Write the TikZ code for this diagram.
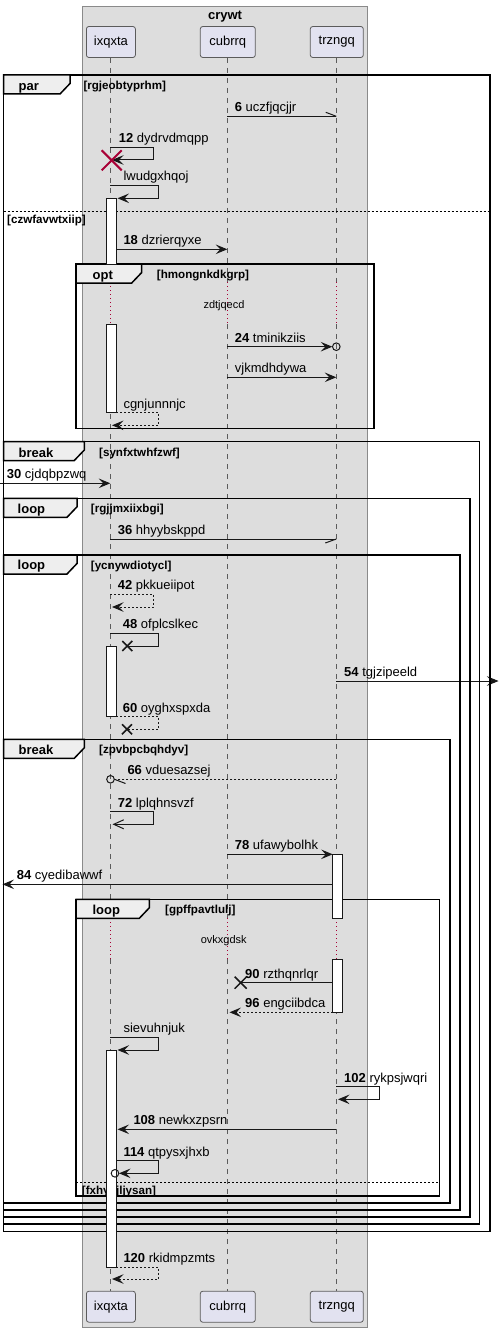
\documentclass[tikz,border=0pt]{standalone}
\usepackage{fontspec}
\setmainfont{Liberation Sans}
\usetikzlibrary{arrows.meta}

\definecolor{grpfill}{HTML}{DDDDDD}
\definecolor{grpline}{HTML}{8A8A8A}
\definecolor{partfill}{HTML}{E2E2F0}
\definecolor{partline}{HTML}{5B5B5B}
\definecolor{linec}{HTML}{181818}
\definecolor{delayc}{HTML}{A80036}
\definecolor{tabfill}{HTML}{EEEEEE}

\newcommand\msgfont{\fontsize{13}{15}\selectfont}
\newcommand\guardfont{\fontsize{11.6}{13}\selectfont\bfseries}
\newcommand\delayfont{\fontsize{11}{13}\selectfont}

% frame tab with the cut lower-right corner: left x, top y, right x
\newcommand\frametab[3]{%
  \filldraw[tab] (#1,#2) -- (#3,#2) -- (#3,#2+8.5) -- (#3-10,#2+19) -- (#1,#2+19) -- cycle;}

\tikzset{
  part/.style={draw=partline, fill=partfill, line width=0.8pt, rounded corners=2.5pt,
    minimum height=31pt, inner sep=0pt, font=\msgfont},
  life/.style={draw=partline, line width=0.8pt, dash pattern=on 5pt off 5pt},
  delayline/.style={draw=delayc, line width=1pt, dash pattern=on 1pt off 3pt},
  msg/.style={draw=linec, line width=1pt, -{Stealth[length=11.5pt,width=9.5pt,inset=4.5pt]}},
  openmsg/.style={draw=linec, line width=1pt, -{Straight Barb[length=10pt,width=9pt]}},
  plain/.style={draw=linec, line width=1pt},
  ret/.style={dash pattern=on 2pt off 2pt},
  lbl/.style={anchor=base west, inner sep=0pt, font=\msgfont, text=black},
  frm/.style={draw=black, line width=1.5pt},
  tab/.style={draw=black, fill=tabfill, line width=1.5pt},
  ftitle/.style={anchor=base west, inner sep=0pt, font=\msgfont\bfseries},
  guard/.style={anchor=base west, inner sep=0pt, font=\guardfont},
  elsesep/.style={draw=black, line width=1pt, dash pattern=on 2pt off 2pt},
  actbar/.style={draw=linec, fill=white, line width=1pt},
  cross/.style={draw=linec, line width=1.5pt},
  endcirc/.style={draw=linec, line width=1pt},
  delaytxt/.style={anchor=base, inner sep=0pt, font=\delayfont},
}

\begin{document}
\begin{tikzpicture}[x=1pt,y=-1pt]
\useasboundingbox (0,0) rectangle (499,1332);

% participant group
\filldraw[fill=grpfill, draw=grpline, line width=1pt] (82.5,6.3) rectangle (367.3,1327.7);
\node[anchor=base, inner sep=0pt, font=\msgfont\bfseries] (grptitle) at (225,19.5) {crywt};

% participants, top and bottom
\node[part, minimum width=49pt] (pA) at (110.9,42) {ixqxta};
\node[part, minimum width=55pt] (pB) at (227.8,42) {cubrrq};
\node[part, minimum width=53pt] (pC) at (336.8,42) {trzngq};
\node[part, minimum width=49pt] (qA) at (110.9,1306.7) {ixqxta};
\node[part, minimum width=55pt] (qB) at (227.8,1306.7) {cubrrq};
\node[part, minimum width=53pt] (qC) at (336.8,1306.7) {trzngq};

% lifeline axes
\coordinate (A) at (110.3,0);
\coordinate (B) at (227.3,0);
\coordinate (C) at (336.3,0);

% lifelines with the two delays
\foreach \l/\p/\q in {A/pA/qA, B/pB/qB, C/pC/qC}{
  \draw[life] (\l|-\p.south) -- (\l|-0,282);
  \draw[delayline] (\l|-0,282) -- (\l|-0,324);
  \draw[life] (\l|-0,324) -- (\l|-0,918.3);
  \draw[delayline] (\l|-0,918.3) -- (\l|-0,959.3);
  \draw[life] (\l|-0,959.3) -- (\l|-\q.north);
}
\node[delaytxt] (d1) at (224,308) {zdtjqecd};
\node[delaytxt] (d2) at (223.7,943) {ovkxgdsk};

% messages
\draw[plain] (B|-0,116.3) -- (C|-0,116.3);
\draw[plain] (C|-0,116.3) -- ++(-10.5,-4);
\node[lbl] (m6) at (234.7,111.6) {\textbf{6} uczfjqcjjr};

\draw[msg] (A|-0,147.3) -- (153.7,147.3) -- (153.7,160) -- (112,160);
\node[lbl] (m12) at (118.7,142.6) {\textbf{12} dydrvdmqpp};

\draw[msg] (A|-0,185.7) -- (158.7,185.7) -- (158.7,198.3) -- (117.5,198.3);
\node[lbl] (mlw) at (123.3,181) {lwudgxhqoj};

\draw[msg] (116.3,249.3) -- (B|-0,249.3);
\node[lbl] (m18) at (123.3,244.6) {\textbf{18} dzrierqyxe};

\draw[msg] (B|-0,346.7) -- (332.3,346.7);
\node[lbl] (m24) at (234.7,342) {\textbf{24} tminikziis};

\draw[msg] (B|-0,377.3) -- (C|-0,377.3);
\node[lbl] (mvj) at (234.7,372.6) {vjkmdhdywa};

\draw[msg,ret] (116.3,412.7) -- (158.7,412.7) -- (158.7,425.3) -- (112,425.3);
\node[lbl] (mcg) at (123.3,408) {cgnjunnnjc};

\draw[msg] (0,483.3) -- (A|-0,483.3);
\node[lbl] (m30) at (6.7,478.6) {\textbf{30} cjdqbpzwq};

\draw[plain] (A|-0,539) -- (C|-0,539);
\draw[plain] (C|-0,539) -- ++(-11,4);
\node[lbl] (m36) at (117.7,534.3) {\textbf{36} hhyybskppd};

\draw[msg,ret] (A|-0,594.3) -- (153.7,594.3) -- (153.7,607) -- (112,607);
\node[lbl] (m42) at (117.7,589.6) {\textbf{42} pkkueiipot};

\draw[plain] (A|-0,633.3) -- (158.7,633.3) -- (158.7,646) -- (127.3,646);
\node[lbl] (m48) at (122.7,628.6) {\textbf{48} ofplcslkec};

\draw[msg] (C|-0,681) -- (498.5,681);
\node[lbl] (m54) at (344,676.3) {\textbf{54} tgjzipeeld};

\draw[plain,ret] (116.3,716.7) -- (158.7,716.7) -- (158.7,729.3) -- (127,729.3);
\node[lbl] (m60) at (122.7,712) {\textbf{60} oyghxspxda};

\draw[plain,ret] (C|-0,779.3) -- (114.5,779.3);
\draw[plain] (114.5,779.3) -- ++(11,4.2);
\node[lbl] (m66) at (127.3,774.6) {\textbf{66} vduesazsej};

\draw[openmsg] (A|-0,811.7) -- (153.7,811.7) -- (153.7,824.3) -- (112.5,824.3);
\node[lbl] (m72) at (117.7,807) {\textbf{72} lplqhnsvzf};

\draw[msg] (B|-0,854.3) -- (332.7,854.3);
\node[lbl] (m78) at (234.7,849.6) {\textbf{78} ufawybolhk};

\draw[msg] (332.7,884.3) -- (2.5,884.3);
\node[lbl] (m84) at (16.7,879.6) {\textbf{84} cyedibawwf};

\draw[plain] (332.7,982.7) -- (240.7,982.7);
\node[lbl] (m90) at (245,978) {\textbf{90} rzthqnrlqr};

\draw[msg,ret] (332.7,1012.3) -- (229.5,1012.3);
\node[lbl] (m96) at (245,1007.6) {\textbf{96} engciibdca};

\draw[msg] (A|-0,1037.3) -- (158.7,1037.3) -- (158.7,1050) -- (117.5,1050);
\node[lbl] (msv) at (123.3,1032.6) {sievuhnjuk};

\draw[msg] (C|-0,1086.7) -- (379.3,1086.7) -- (379.3,1099.3) -- (338,1099.3);
\node[lbl] (m102) at (344,1082) {\textbf{102} rykpsjwqri};

\draw[msg] (C|-0,1129.3) -- (117.5,1129.3);
\node[lbl] (m108) at (133.3,1124.6) {\textbf{108} newkxzpsrn};

\draw[msg] (116.3,1160.7) -- (158.7,1160.7) -- (158.7,1173.3) -- (119,1173.3);
\node[lbl] (m114) at (123.3,1156) {\textbf{114} qtpysxjhxb};

\draw[msg,ret] (116.3,1267.3) -- (158.7,1267.3) -- (158.7,1279) -- (112,1279);
\node[lbl] (m120) at (123.3,1262.6) {\textbf{120} rkidmpzmts};

% combined fragments
\draw[frm] (3.5,75) rectangle (490,1231.5);
\frametab{3.5}{75}{70}
\node[ftitle] (fpar) at (18.5,90.5) {par};
\node[guard] (gpar) at (83.3,90) {[rgjeobtyprhm]};
\draw[elsesep] (3.5,212) -- (490,212);
\node[guard] (gpar2) at (7,224) {[czwfavwtxiip]};

\draw[frm] (76,264) rectangle (374,428.7);
\frametab{76}{264}{141.7}
\node[ftitle] (fopt) at (92.5,279) {opt};
\node[guard] (gopt) at (156.7,278.5) {[hmongnkdkgrp]};

\draw[frm] (3.5,441.5) rectangle (479.3,1224);
\frametab{3.5}{441.5}{84.3}
\node[ftitle] (fbr1) at (18.5,457) {break};
\node[guard] (gbr1) at (99,456.5) {[synfxtwhfzwf]};

\draw[frm] (3.5,498.3) rectangle (470,1217);
\frametab{3.5}{498.3}{77}
\node[ftitle] (flp1) at (17.5,513) {loop};
\node[guard] (glp1) at (90.7,512.5) {[rgjjmxiixbgi]};

\draw[frm] (3.5,555) rectangle (460,1210);
\frametab{3.5}{555}{77}
\node[ftitle] (flp2) at (17.5,569.7) {loop};
\node[guard] (glp2) at (90.7,569.2) {[ycnywdiotycl]};

\draw[frm] (3.5,739.3) rectangle (450,1203);
\frametab{3.5}{739.3}{84.3}
\node[ftitle] (fbr2) at (18.5,754) {break};
\node[guard] (gbr2) at (99,753.5) {[zpvbpcbqhdyv]};

\draw[frm] (76,899.3) rectangle (439.3,1196);
\frametab{76}{899.3}{149.3}
\node[ftitle] (flp3) at (92.3,914) {loop};
\node[guard] (glp3) at (165,913.5) {[gpffpavtlulj]};
\draw[elsesep] (76,1182.3) -- (439.3,1182.3);
\node[guard] (glp3b) at (81.7,1194) {[fxhycjljysan]};

% activation bars
\filldraw[actbar] (106.7,198.3) rectangle (116.3,264);
\filldraw[actbar] (106.7,324) rectangle (116.3,412.7);
\filldraw[actbar] (106.7,646.7) rectangle (116.3,716.7);
\filldraw[actbar] (332.7,854.3) rectangle (342.3,918.3);
\filldraw[actbar] (332.7,959.3) rectangle (342.3,1012.3);
\filldraw[actbar] (106.7,1050.7) rectangle (116.3,1267.3);

% message end decorations
\draw[endcirc] (336.3,346.7) circle (3.8);
\draw[endcirc] (110.5,779.3) circle (3.8);
\draw[endcirc] (115,1173.3) circle (3.8);
\draw[cross] (122.3,641) -- (132.3,651) (122.3,651) -- (132.3,641);
\draw[cross] (122,724.3) -- (132,734.3) (122,734.3) -- (132,724.3);
\draw[cross] (234.7,976.7) -- (246.7,988.7) (234.7,988.7) -- (246.7,976.7);
\draw[draw=delayc, line width=2pt] (101.7,150.3) -- (121.7,170.3) (101.7,170.3) -- (121.7,150.3);

\end{tikzpicture}
\end{document}
